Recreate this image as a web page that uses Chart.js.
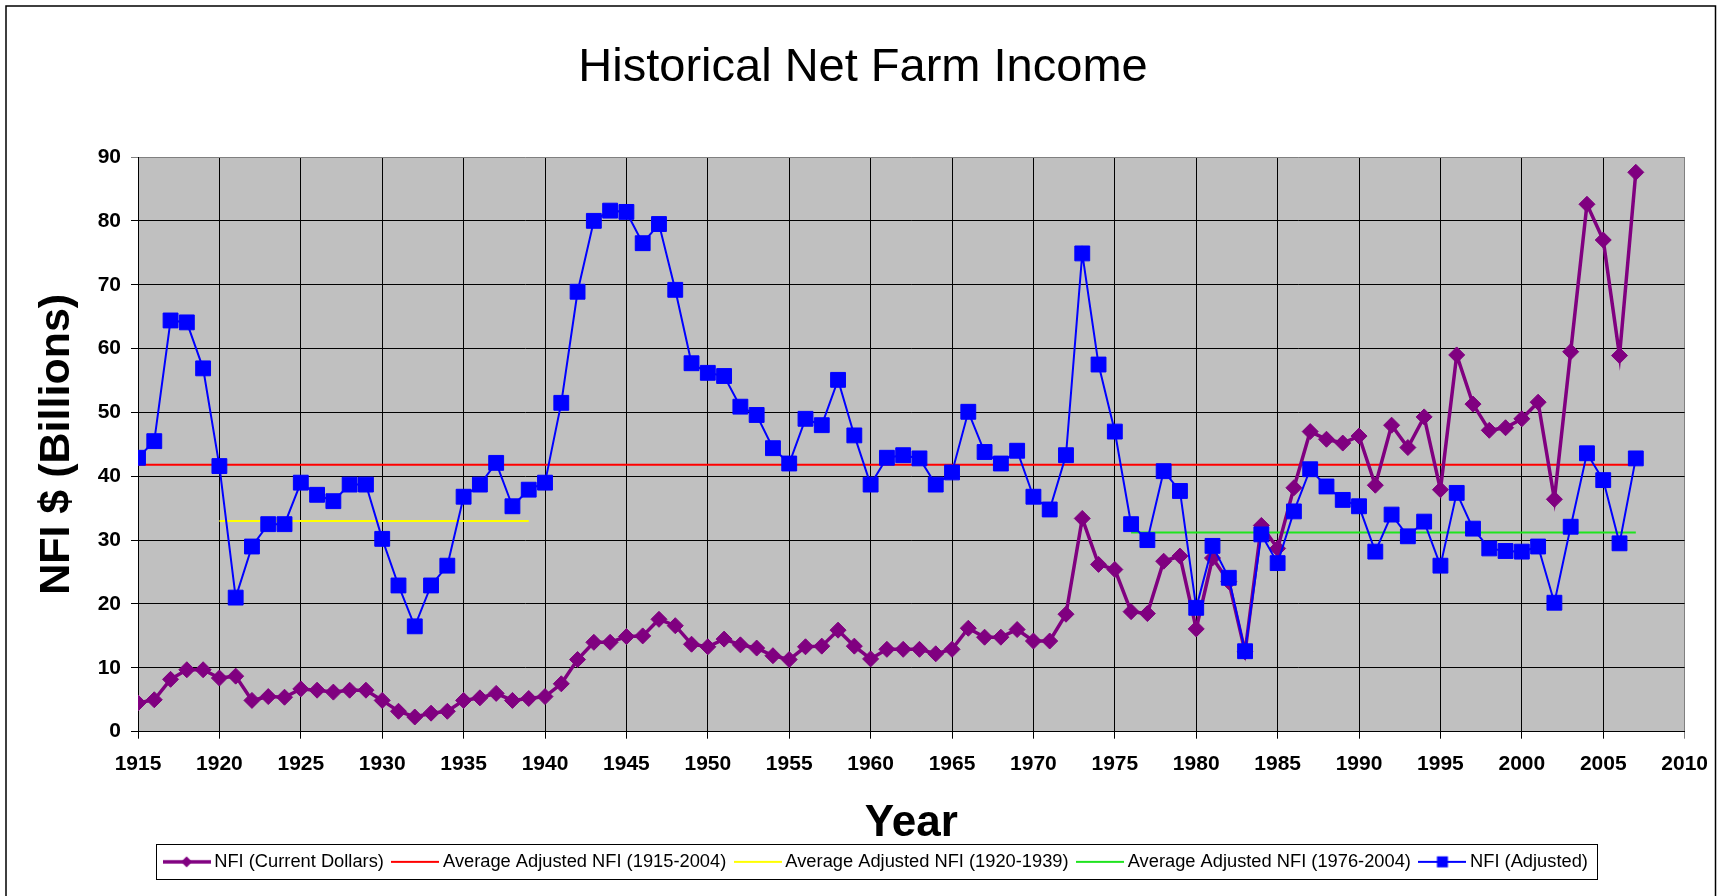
<!DOCTYPE html>
<html>
<head>
<meta charset="utf-8">
<script src="https://cdn.jsdelivr.net/npm/chart.js@4.4.1/dist/chart.umd.min.js"></script>
<style>
  html, body { margin: 0; padding: 0; background: #fff; }
  canvas { display: block; }
</style>
</head>
<body>
<canvas id="nfiChart" width="1721" height="896"></canvas>
<script>
// years 1915 - 2007
var years = [];
for (var yr = 1915; yr <= 2007; yr++) years.push(yr);

// NFI in current dollars (billions)
var nfiCurrent = [
  4.5, 5.0, 8.2, 9.7, 9.7, 8.4, 8.7, 4.9, 5.5, 5.4,
  6.7, 6.5, 6.2, 6.5, 6.5, 4.9, 3.2, 2.3, 2.9, 3.2,
  4.9, 5.3, 6.0, 4.9, 5.2, 5.5, 7.5, 11.3, 14.0, 14.0,
  14.9, 15.0, 17.6, 16.6, 13.7, 13.3, 14.5, 13.6, 13.1, 11.9,
  11.3, 13.3, 13.4, 15.9, 13.4, 11.4, 12.9, 12.9, 12.9, 12.2,
  12.9, 16.2, 14.8, 14.8, 16.0, 14.2, 14.2, 18.4, 33.4, 26.2,
  25.4, 18.8, 18.5, 26.7, 27.5, 16.1, 27.2, 23.5, 12.5, 32.3,
  28.7, 38.2, 47.0, 45.8, 45.2, 46.3, 38.6, 48.0, 44.5, 49.3,
  37.9, 59.0, 51.3, 47.2, 47.6, 49.0, 51.6, 36.4, 59.5, 82.6,
  77.0, 58.9, 87.6
];

// NFI adjusted (billions)
var nfiAdjusted = [
  42.9, 45.5, 64.4, 64.1, 56.9, 41.6, 21.0, 29.0, 32.5, 32.5,
  39.0, 37.1, 36.1, 38.7, 38.7, 30.2, 22.9, 16.5, 22.9, 26.0,
  36.8, 38.7, 42.1, 35.3, 37.9, 39.0, 51.5, 68.9, 80.0, 81.6,
  81.4, 76.5, 79.5, 69.2, 57.7, 56.2, 55.7, 50.9, 49.6, 44.4,
  42.0, 49.0, 48.0, 55.1, 46.4, 38.7, 42.9, 43.3, 42.8, 38.7,
  40.6, 50.1, 43.8, 42.0, 44.0, 36.8, 34.8, 43.3, 74.9, 57.5,
  47.0, 32.5, 30.0, 40.8, 37.7, 19.4, 29.1, 24.1, 12.6, 30.9,
  26.4, 34.5, 41.1, 38.4, 36.3, 35.3, 28.2, 34.0, 30.6, 32.9,
  26.0, 37.4, 31.8, 28.7, 28.3, 28.2, 29.0, 20.2, 32.1, 43.6,
  39.4, 29.5, 42.8
];

// average lines (start/end year, value)
var avgAllYears = [1915, 2007];
var avgAllValues = [41.8, 41.8];
var avgEarlyYears = [1920, 1939];
var avgEarlyValues = [33.0, 33.0];
var avgLateYears = [1976, 2007];
var avgLateValues = [31.2, 31.2];

var xTicks = { min: 1915, max: 2010, step: 5 };
var yTicks = { min: 0, max: 90, step: 10 };

function pts(xs, ys) {
  return xs.map(function (x, i) { return { x: x, y: ys[i] }; });
}

var PURPLE = "#800080", BLUE = "#0000ff", RED = "#ff0000", YELLOW = "#ffff00", GREEN = "#1fe31f";

// legend samples: a short line with the marker in the middle
function legendIcon(color, lw, marker) {
  var c = document.createElement("canvas");
  c.width = 48; c.height = 22;
  var g = c.getContext("2d");
  g.strokeStyle = color;
  g.lineWidth = lw;
  g.beginPath(); g.moveTo(0, 11); g.lineTo(48, 11); g.stroke();
  g.fillStyle = color;
  if (marker === "diamond") {
    g.beginPath(); g.moveTo(24, 5.5); g.lineTo(29.5, 11); g.lineTo(24, 16.5); g.lineTo(18.5, 11); g.closePath(); g.fill();
  } else if (marker === "square") {
    g.fillRect(18.5, 5.5, 11, 11);
  }
  return c;
}

var FONT = "'Liberation Sans', Arial, sans-serif";
Chart.defaults.font.family = FONT;
Chart.defaults.color = "#000";

var frame = {
  id: "frame",
  afterLayout: function (chart) {
    chart.titleBlock.left += 18; chart.titleBlock.right += 18;
    chart.legend.left += 33; chart.legend.right += 33;
  },
  beforeDraw: function (chart) {
    var ctx = chart.ctx, a = chart.chartArea;
    ctx.save();
    ctx.fillStyle = "#fff";
    ctx.fillRect(0, 0, chart.width, chart.height);
    ctx.strokeStyle = "#000";
    ctx.lineWidth = 1.5;
    ctx.strokeRect(6, 6, 1709.5, 900);
    ctx.fillStyle = "#c0c0c0";
    ctx.fillRect(a.left, a.top, a.right - a.left, a.bottom - a.top);
    ctx.restore();
  },
  afterDraw: function (chart) {
    var boxes = chart.legend.legendHitBoxes;
    if (!boxes || !boxes.length) return;
    var first = boxes[0], last = boxes[boxes.length - 1];
    var cy = first.top + 9;
    var ctx = chart.ctx;
    ctx.save();
    ctx.strokeStyle = "#000";
    ctx.lineWidth = 1;
    var l = Math.round(first.left - 12) + 0.5, r = Math.round(last.left + last.width + 9) + 0.5;
    var t = Math.round(cy - 17.5) + 0.5, b = Math.round(cy + 17.5) + 0.5;
    ctx.strokeRect(l, t, r - l, b - t);
    ctx.restore();
  }
};

var icons = [
  legendIcon(PURPLE, 3.5, "diamond"),
  legendIcon(RED, 2, null),
  legendIcon(YELLOW, 2, null),
  legendIcon(GREEN, 2, null),
  legendIcon(BLUE, 2, "square")
];

var ctx = document.getElementById("nfiChart").getContext("2d");
var nfiChart = new Chart(ctx, {
  type: "line",
  data: {
    datasets: [
      {
        label: "NFI (Current Dollars)",
        data: pts(years, nfiCurrent),
        borderColor: PURPLE, backgroundColor: PURPLE,
        borderWidth: 3.5,
        pointStyle: "rectRot", pointRadius: 8, pointBorderWidth: 1,
        pointBackgroundColor: PURPLE, pointBorderColor: PURPLE,
        order: 1
      },
      {
        label: "Average Adjusted NFI (1915-2004)",
        data: pts(avgAllYears, avgAllValues),
        borderColor: RED, borderWidth: 2, pointRadius: 0, order: 2
      },
      {
        label: "Average Adjusted NFI (1920-1939)",
        data: pts(avgEarlyYears, avgEarlyValues),
        borderColor: YELLOW, borderWidth: 2, pointRadius: 0, order: 2
      },
      {
        label: "Average Adjusted NFI (1976-2004)",
        data: pts(avgLateYears, avgLateValues),
        borderColor: GREEN, borderWidth: 2, pointRadius: 0, order: 2
      },
      {
        label: "NFI (Adjusted)",
        data: pts(years, nfiAdjusted),
        borderColor: BLUE, backgroundColor: BLUE,
        borderWidth: 2,
        pointStyle: "rect", pointRadius: 10.5, pointBorderWidth: 1,
        pointBackgroundColor: BLUE, pointBorderColor: BLUE,
        order: 0
      }
    ]
  },
  options: {
    responsive: false,
    animation: false,
    devicePixelRatio: 1,
    layout: { padding: { left: 0, right: 31, top: 0, bottom: 15 } },
    elements: { line: { tension: 0, fill: false } },
    plugins: {
      tooltip: { enabled: false },
      title: {
        display: true,
        text: "Historical Net Farm Income",
        color: "#000",
        font: { size: 47, weight: "normal", family: FONT },
        padding: { top: 40, bottom: 60.6 }
      },
      legend: {
        display: true,
        position: "bottom",
        labels: {
          usePointStyle: true,
          pointStyleWidth: 37,
          padding: 13,
          color: "#000",
          font: { size: 18.3, family: FONT },
          generateLabels: function (chart) {
            return chart.data.datasets.map(function (ds, i) {
              return {
                text: ds.label,
                pointStyle: icons[i],
                datasetIndex: i,
                fontColor: "#000",
                fillStyle: "transparent",
                strokeStyle: "transparent",
                lineWidth: 0,
                hidden: false
              };
            });
          }
        }
      }
    },
    scales: {
      x: {
        type: "linear",
        min: xTicks.min, max: xTicks.max,
        afterFit: function (s) { s.height = 108; },
        ticks: {
          stepSize: xTicks.step,
          padding: 13,
          color: "#000",
          font: { size: 21, weight: "bold", family: FONT },
          maxRotation: 0,
          autoSkip: false,
          callback: function (v) { return String(v); }
        },
        grid: {
          color: function (c) { return c.tick && c.tick.value === xTicks.max ? "#808080" : "#000"; },
          lineWidth: 1,
          tickLength: 7
        },
        border: { color: "#000", width: 1 },
        title: {
          display: true,
          text: "Year",
          color: "#000",
          font: { size: 44, weight: "bold", family: FONT, lineHeight: 0.72 },
          padding: { top: 0, bottom: 0 }
        }
      },
      y: {
        min: yTicks.min, max: yTicks.max,
        afterFit: function (s) { s.width = 138; },
        ticks: {
          stepSize: yTicks.step,
          padding: 10,
          color: "#000",
          font: { size: 21, weight: "bold", family: FONT }
        },
        grid: {
          color: function (c) { return c.tick && c.tick.value === yTicks.max ? "#808080" : "#000"; },
          lineWidth: 1,
          tickLength: 7
        },
        border: { color: "#000", width: 1 },
        title: {
          display: true,
          text: "NFI $ (Billions)",
          color: "#000",
          font: { size: 43, weight: "bold", family: FONT },
          padding: { top: 31.7, bottom: 0 }
        }
      }
    }
  },
  plugins: [frame]
});
</script>
</body>
</html>
